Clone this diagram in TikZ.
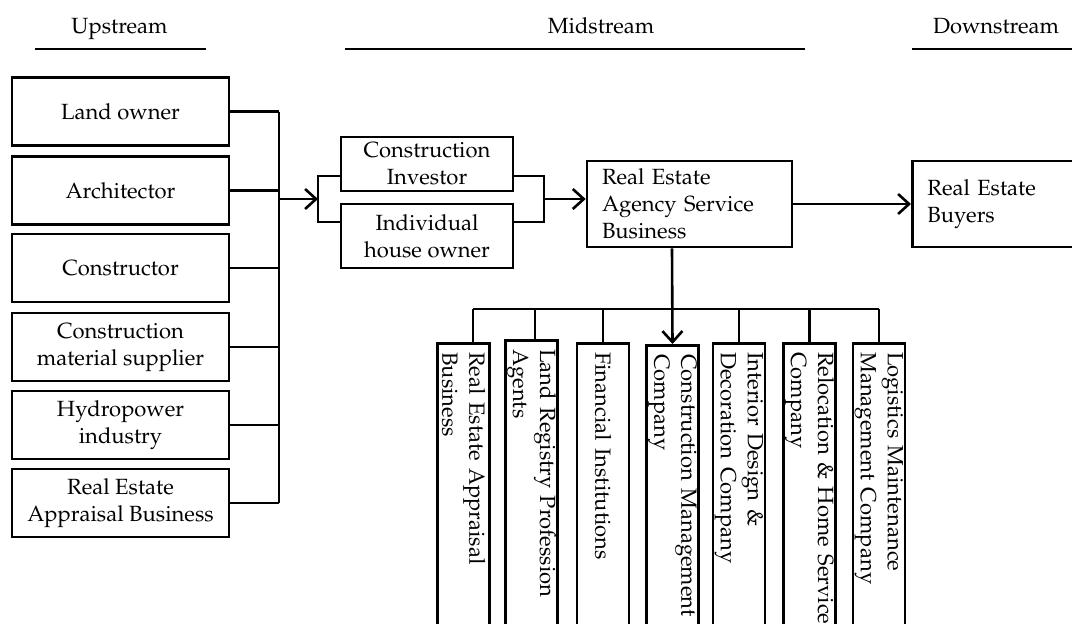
\documentclass[tikz,border=0pt]{standalone}
\usepackage[T1]{fontenc}
\usepackage{mathpazo}
\usetikzlibrary{arrows.meta}
\tikzset{
    box/.style={draw, line width=2.6pt, align=center, inner sep=0pt},
    lbox/.style={box, minimum width=217pt, minimum height=68pt},
    vbox/.style={draw, line width=2.6pt, rotate=-90, anchor=west, align=left, text width=280pt, inner xsep=9pt, inner ysep=0pt, minimum height=52pt},
    link/.style={line width=2.6pt},
    flow/.style={link, -{Straight Barb[length=11pt, width=20pt, line width=2.6pt]}}
}
\begin{document}
\begin{tikzpicture}[x=1pt, y=-1pt, font=\fontsize{22}{27}\selectfont]
    \useasboundingbox (0,0) rectangle (1072,624);
    \node [anchor=base] (hup) at (119.5,33) {Upstream};
    \node [anchor=base] (hmid) at (601,33) {Midstream};
    \node [anchor=base] (hdown) at (996,33) {Downstream};
    \draw [link] (35,49) -- (206,49);
    \draw [link] (345,49) -- (805,49);
    \draw [link] (912,49) -- (1072,49);
    \node [lbox] (land) at (120.5,111.5) {Land owner};
    \node [lbox] (arch) at (120.5,190.5) {Architector};
    \node [lbox] (cons) at (120.5,268) {Constructor};
    \node [lbox] (mat) at (120.5,347) {Construction\\material supplier};
    \node [lbox] (hydro) at (120.5,425) {Hydropower\\industry};
    \node [lbox] (appr) at (120.5,503) {Real Estate\\Appraisal Business};
    \node [box, minimum width=172pt, minimum height=54pt] (inv) at (427,164) {Construction\\Investor};
    \node [box, minimum width=172pt, minimum height=64pt] (house) at (427,236) {Individual\\house owner};
    \node [box, align=left, text width=175pt, inner xsep=15pt, minimum height=86pt] (agency) at (689.5,204) {Real Estate\\Agency Service\\Business};
    \node [box, anchor=west, align=left, text width=150pt, inner xsep=15pt, minimum height=86pt] (buyers) at (911,204) {Real Estate\\Buyers};
    \node [vbox] (c1) at (463.5,342) {Real Estate Appraisal\\Business};
    \node [vbox] (c2) at (531.5,339) {Land Registry Profession\\Agents};
    \node [vbox] (c3) at (603,342) {Financial Institutions};
    \node [vbox] (c4) at (672.5,344) {Construction Management\\Company};
    \node [vbox] (c5) at (739,342) {Interior Design \&\\Decoration Company};
    \node [vbox] (c6) at (809.5,342) {Relocation \& Home Service\\Company};
    \node [vbox] (c7) at (879,342) {Logistics Maintenance\\Management Company};
    \coordinate (bus) at (279,0);
    \foreach \b in {land,arch,cons,mat,hydro,appr}
        \draw [link] (\b.east) -- (\b.east -| bus);
    \draw [link] (land.east -| bus) -- (appr.east -| bus);
    \coordinate (lj) at (318,199);
    \coordinate (rj) at (544,199);
    \coordinate (ib) at (0,176);
    \coordinate (hb) at (0,222);
    \draw [flow] (lj -| bus) -- (lj);
    \draw [link] (ib -| inv.west) -| (lj) |- (hb -| house.west);
    \draw [link] (ib -| inv.east) -| (rj) |- (hb -| house.east);
    \draw [flow] (rj) -- (rj -| agency.west);
    \draw [flow] (agency.east) -- (buyers.west);
    \coordinate (dj) at (672,309);
    \draw [flow] (agency.south -| dj) -- (c4.west);
    \draw [link] ([xshift=9.5pt]c1.west |- dj) -- (c7.west |- dj);
    \draw [link] ([xshift=9.5pt]c1.west |- dj) -- ([xshift=9.5pt]c1.west);
    \draw [link] ([xshift=3.5pt]c2.west |- dj) -- ([xshift=3.5pt]c2.west);
    \foreach \c in {c3,c5,c6,c7}
        \draw [link] (\c.west |- dj) -- (\c.west);
\end{tikzpicture}
\end{document}
